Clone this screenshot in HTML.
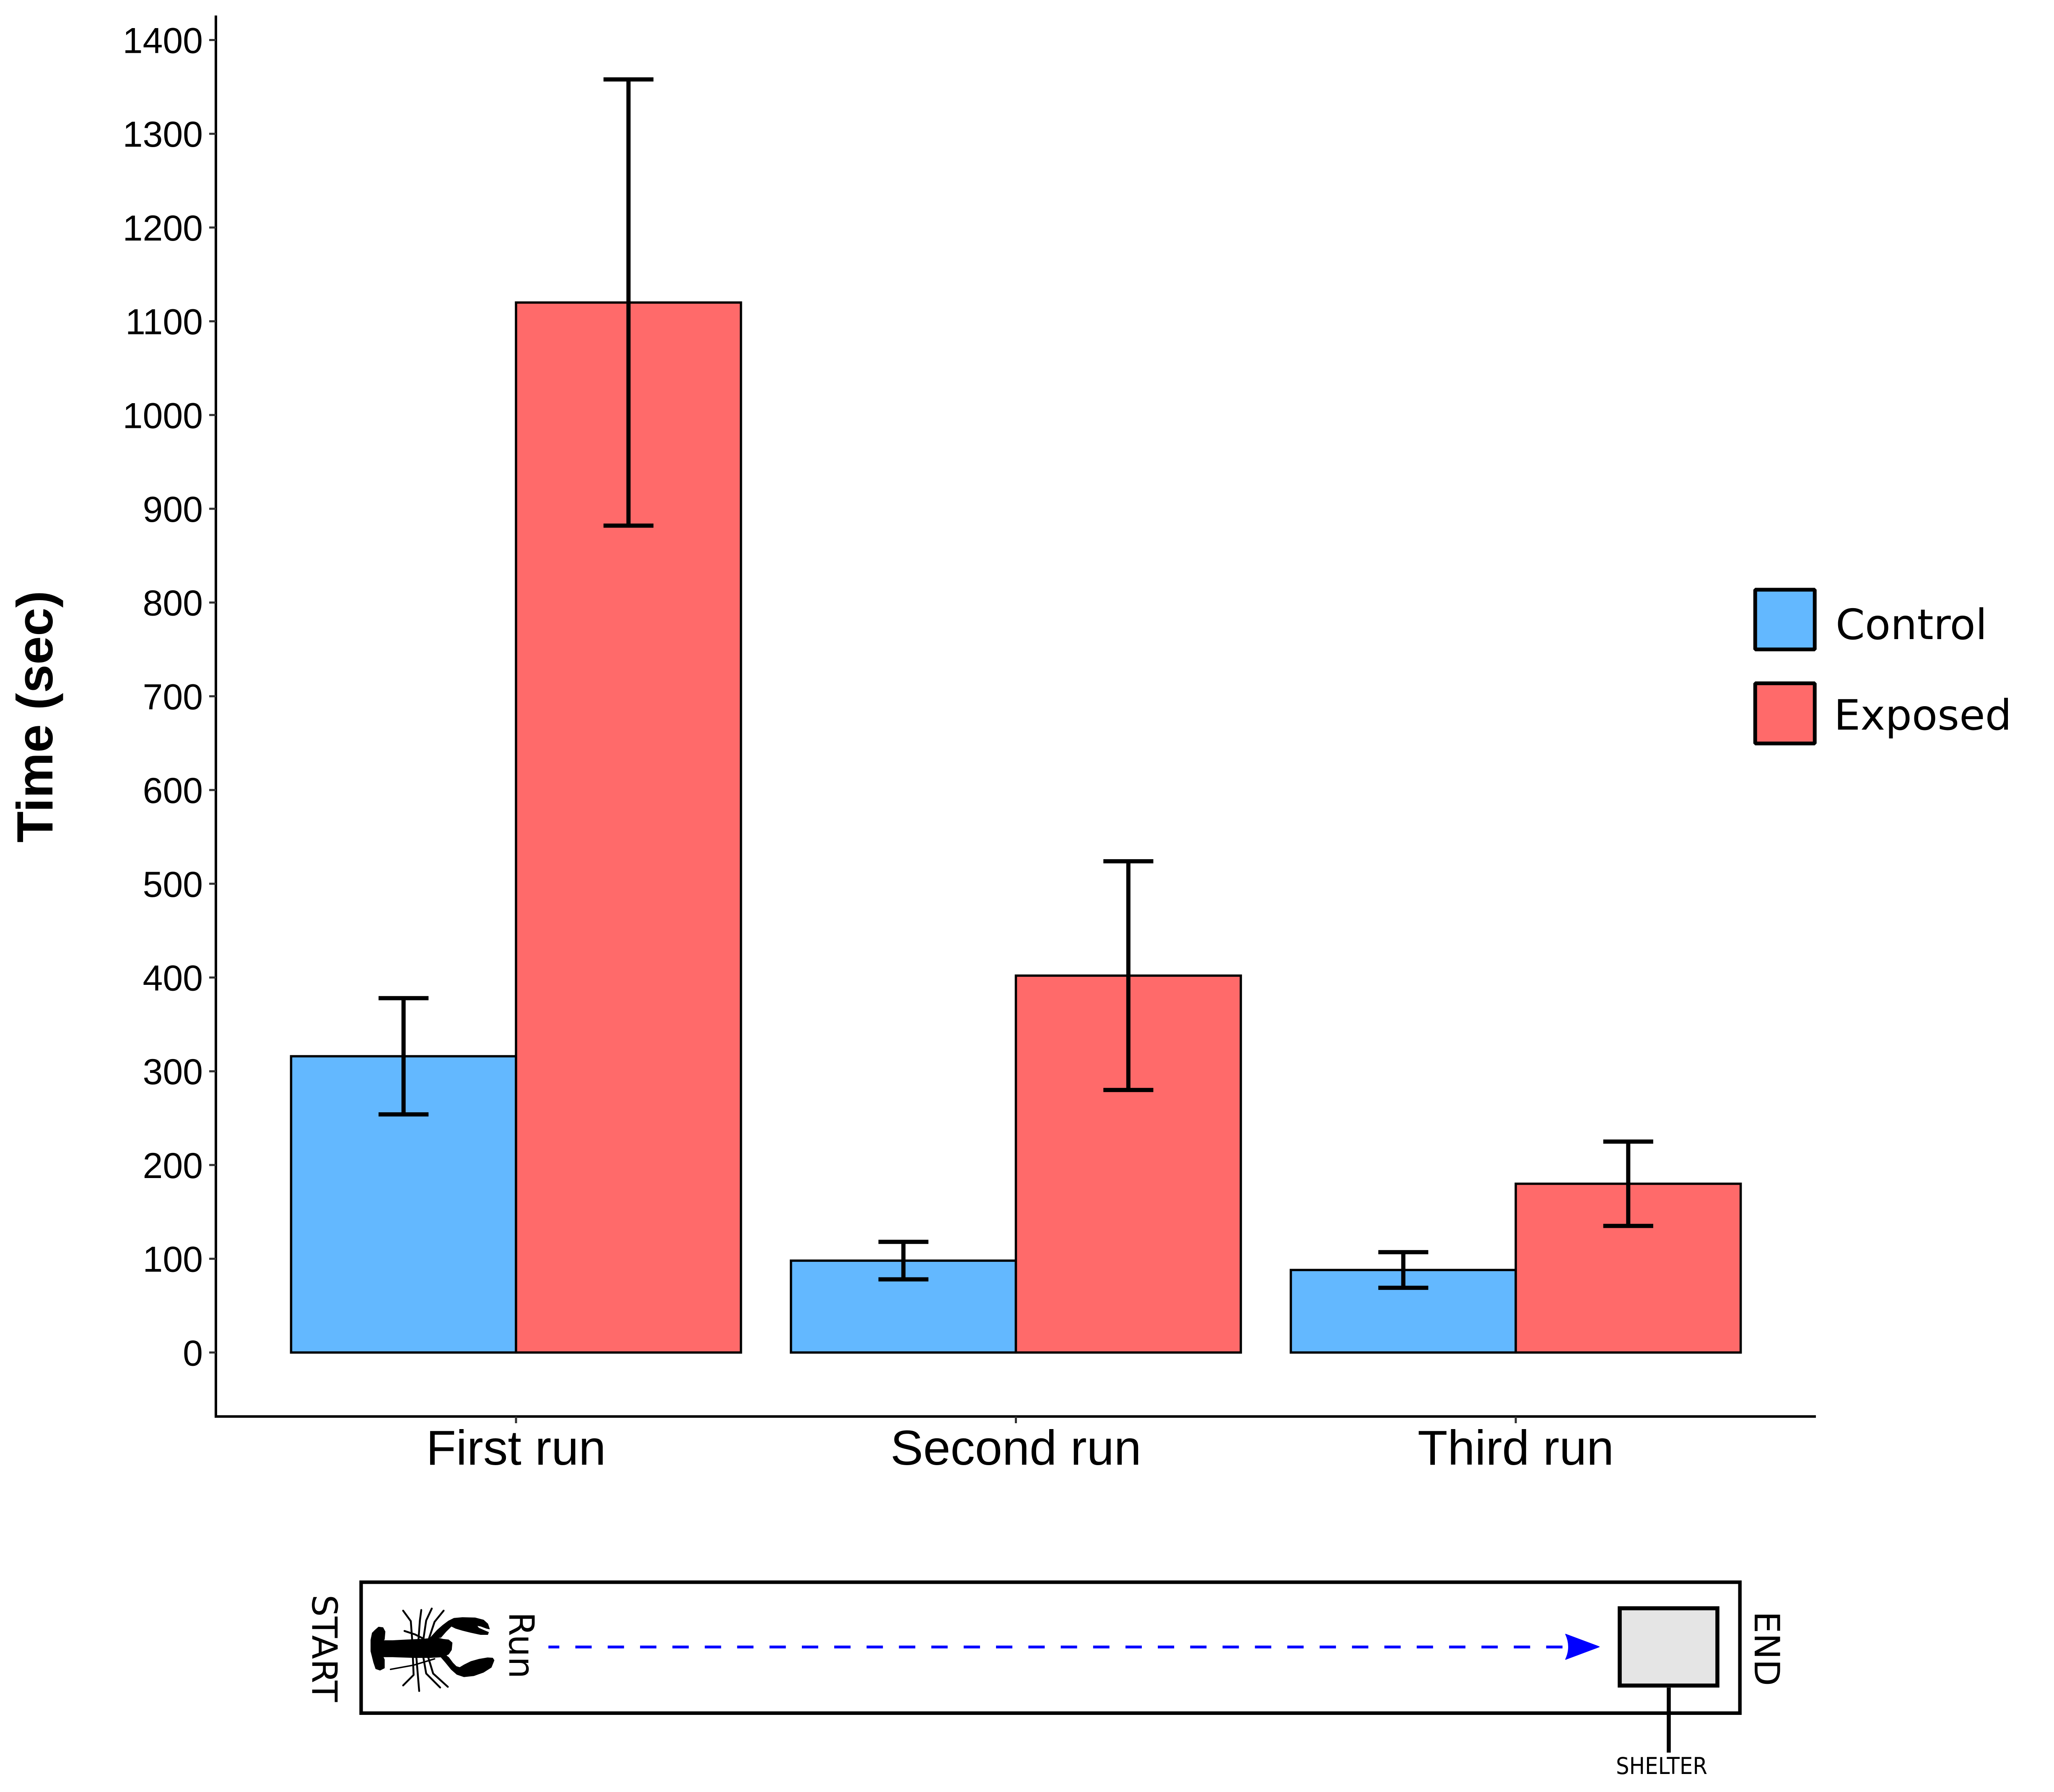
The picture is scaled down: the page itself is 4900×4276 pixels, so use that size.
<!DOCTYPE html>
<html>
<head>
<meta charset="utf-8">
<style>
html,body{margin:0;padding:0;background:#fff;}
svg{display:block;}
</style>
</head>
<body>
<svg xmlns="http://www.w3.org/2000/svg" width="4900" height="4276" viewBox="0 0 4900 4276">
<rect x="0" y="0" width="4900" height="4276" fill="#fff"/>

<!-- Bars -->
<g stroke="#000" stroke-width="5.5" stroke-linejoin="miter">
  <rect x="694.4" y="2520.4" width="536.6" height="706.9" fill="#63B8FF"/>
  <rect x="1231" y="721.9" width="536.6" height="2505.4" fill="#FF6A6A"/>
  <rect x="1886.9" y="3008.1" width="536.6" height="219.2" fill="#63B8FF"/>
  <rect x="2423.5" y="2328.0" width="536.6" height="899.3" fill="#FF6A6A"/>
  <rect x="3079.4" y="3030.4" width="536.6" height="196.9" fill="#63B8FF"/>
  <rect x="3616" y="2824.6" width="536.6" height="402.7" fill="#FF6A6A"/>
</g>

<!-- Error bars -->
<g stroke="#000" stroke-width="10" fill="none">
  <path d="M962.7,2381.7 V2659.1 M903.1,2381.7 H1022.3 M903.1,2659.1 H1022.3"/>
  <path d="M1499.3,189.5 V1254.3 M1439.7,189.5 H1558.9 M1439.7,1254.3 H1558.9"/>
  <path d="M2155.2,2963.3 V3052.8 M2095.6,2963.3 H2214.8 M2095.6,3052.8 H2214.8"/>
  <path d="M2691.8,2055.1 V2600.9 M2632.2,2055.1 H2751.4 M2632.2,2600.9 H2751.4"/>
  <path d="M3347.7,2987.9 V3072.9 M3288.1,2987.9 H3407.3 M3288.1,3072.9 H3407.3"/>
  <path d="M3884.3,2724.0 V2925.3 M3824.7,2724.0 H3943.9 M3824.7,2925.3 H3943.9"/>
</g>

<!-- Axes -->
<g stroke="#000" stroke-width="6" fill="none">
  <path d="M515,37 V3380"/>
  <path d="M512,3380 H4332"/>
</g>

<!-- Y ticks -->
<g stroke="#333" stroke-width="5">
  <path d="M499,3227.3H515 M499,3003.6H515 M499,2779.9H515 M499,2556.2H515 M499,2332.5H515 M499,2108.8H515 M499,1885.1H515 M499,1661.4H515 M499,1437.7H515 M499,1214.0H515 M499,990.3H515 M499,766.6H515 M499,542.9H515 M499,319.2H515 M499,95.5H515"/>
  <path d="M1231,3380V3396 M2423.5,3380V3396 M3616,3380V3396"/>
</g>

<!-- Y tick labels -->
<g font-family="'Liberation Sans', Arial, sans-serif" font-size="86" fill="#000" text-anchor="end">
  <text x="484" y="3258.3">0</text>
  <text x="484" y="3034.6">100</text>
  <text x="484" y="2810.9">200</text>
  <text x="484" y="2587.2">300</text>
  <text x="484" y="2363.5">400</text>
  <text x="484" y="2139.8">500</text>
  <text x="484" y="1916.1">600</text>
  <text x="484" y="1692.4">700</text>
  <text x="484" y="1468.7">800</text>
  <text x="484" y="1245.0">900</text>
  <text x="484" y="1021.3">1000</text>
  <text x="484" y="797.6">1100</text>
  <text x="484" y="573.9">1200</text>
  <text x="484" y="350.2">1300</text>
  <text x="484" y="126.5">1400</text>
</g>

<!-- X labels -->
<g font-family="'Liberation Sans', Arial, sans-serif" font-size="117" fill="#000" text-anchor="middle">
  <text x="1231" y="3495">First run</text>
  <text x="2423.5" y="3495">Second run</text>
  <text x="3616" y="3495">Third run</text>
</g>

<!-- Y axis title -->
<text transform="translate(125,1710) rotate(-90)" font-family="'Liberation Sans', Arial, sans-serif" font-weight="bold" font-size="122" text-anchor="middle" fill="#000">Time (sec)</text>

<!-- Legend -->
<g stroke="#000" stroke-width="9" stroke-linejoin="bevel">
  <rect x="4187.2" y="1407.1" width="142" height="142.5" fill="#63B8FF"/>
  <rect x="4187.2" y="1630.5" width="142" height="143.5" fill="#FF6A6A"/>
</g>
<g font-family="'DejaVu Sans', Verdana, sans-serif" font-size="100" fill="#000">
  <text x="4379" y="1525">Control</text>
  <text x="4375" y="1741">Exposed</text>
</g>

<!-- Bottom diagram -->
<rect x="861.5" y="3775.4" width="3289.2" height="312.4" fill="none" stroke="#000" stroke-width="8.4"/>

<g font-family="'DejaVu Sans', Verdana, sans-serif" font-size="83" fill="#000" text-anchor="middle">
  <text transform="translate(745,3933) rotate(90)">START</text>
  <text transform="translate(1215,3926) rotate(90)">Run</text>
  <text transform="translate(4186,3934) rotate(90)">END</text>
</g>

<!-- dashed arrow -->
<line x1="1308.3" y1="3930" x2="3727.7" y2="3930" stroke="#0000ff" stroke-width="6.7" stroke-dasharray="39 38.2" stroke-dashoffset="13"/>
<path d="M3815,3929.5 L3735,3899.5 Q3749,3929.5 3735,3959.5 Z" fill="#0000ff" stroke="#0000ff" stroke-width="2" stroke-linejoin="round"/>

<!-- shelter -->
<rect x="3864" y="3837.6" width="233" height="184.4" fill="#e5e5e5" stroke="#000" stroke-width="9.6"/>
<line x1="3981" y1="4027" x2="3981" y2="4182" stroke="#000" stroke-width="9.6"/>
<text x="3964" y="4233" font-family="'DejaVu Sans', Verdana, sans-serif" font-size="55" text-anchor="middle" textLength="218" lengthAdjust="spacingAndGlyphs" fill="#000">SHELTER</text>

<!-- lobster -->
<g fill="#000" stroke="#000">
  <path stroke-width="2" stroke-linejoin="round" d="M895,3890 L903.3,3882.7 L913.3,3884 L918.3,3893.3 L916.7,3911.7 L913.3,3915 L936.7,3915 L970,3913.3 L1003.3,3911.7 L1026.7,3910 L1043.3,3908.3 L1056.7,3911.7 L1070,3913.3 L1078.3,3920 L1076.7,3936.7 L1070,3946.7 L1056.7,3953.3 L1026.7,3955 L986.7,3955 L936.7,3953.3 L913.3,3953.3 L916.7,3960 L916.7,3980 L906.7,3985 L896.7,3981.7 L891.7,3966.7 L885,3940 L885,3913.3 L888.3,3896.7 Z"/>
  <path stroke-width="2" stroke-linejoin="round" d="M1026.7,3908.3 L1043.3,3890 L1056.7,3878.3 L1070,3868.3 L1083.3,3861.7 L1103.3,3860 L1133.3,3860.7 L1153.3,3866 L1163.3,3875 L1167.3,3886.7 L1160,3885 L1146.7,3880 L1136.7,3878.3 L1141.7,3885 L1156.7,3891.7 L1165,3895 L1163.3,3900 L1146.7,3900 L1123.3,3895 L1103.3,3890 L1086.7,3885 L1076.7,3880 L1063.3,3893.3 L1051.7,3906.7 Z"/>
  <path stroke-width="2" stroke-linejoin="round" d="M1051.7,3953.3 L1063.3,3966.7 L1076.7,3983.3 L1090,3995 L1106.7,4000.7 L1130,3998.3 L1153.3,3990 L1171.7,3978.3 L1178.3,3961.7 L1175,3956.7 L1163.3,3956 L1143.3,3959.3 L1123.3,3965 L1106.7,3973.3 L1096.7,3979.3 L1088.3,3976.7 L1080,3968.3 L1070,3955 L1063.3,3950 Z"/>
</g>
<g fill="none" stroke="#000" stroke-width="4.5" stroke-linecap="round" stroke-linejoin="round">
  <polyline points="983.3,3913.3 980,3868.3 961.7,3843.3"/>
  <polyline points="998.3,3913 1001.7,3866.7 1005,3841.7"/>
  <polyline points="1010,3911.7 1016.7,3866.7 1030,3838.3"/>
  <polyline points="1023.3,3910 1036.7,3870 1058.3,3843.3"/>
  <polyline points="965,3891.7 990,3900 1010,3910"/>
  <polyline points="985,3955 986.7,3996.7 961.7,4021.7"/>
  <polyline points="993.3,3955 1000,4035"/>
  <polyline points="1010,3955 1016.7,3993.3 1050,4026.7"/>
  <polyline points="1021.7,3955 1033.3,3993.3 1068.3,4025"/>
  <polyline points="1036.7,3958.3 986.7,3973.3 931.7,3983.3" stroke-width="3.5"/>
</g>
</svg>
</body>
</html>
